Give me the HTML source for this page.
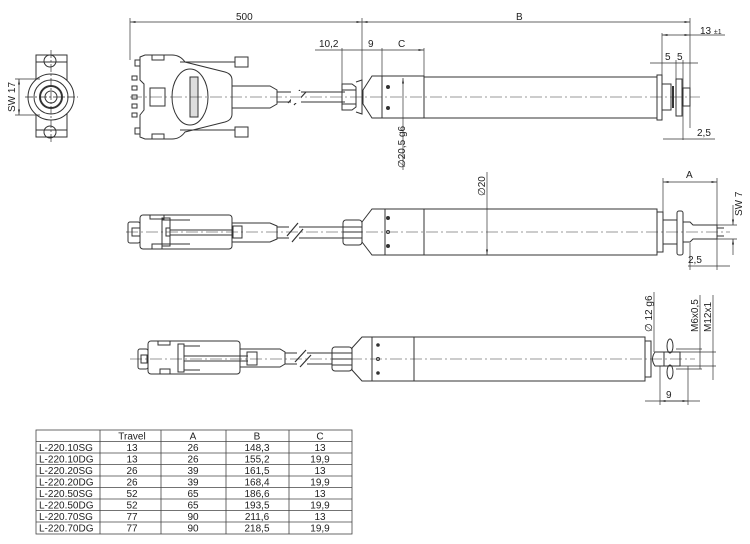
<!DOCTYPE html>
<html><head><meta charset="utf-8"><style>
html,body{margin:0;padding:0;background:#fff;}
svg{display:block;}
text{font-family:"Liberation Sans",sans-serif;fill:#222;}
</style></head><body>
<svg width="750" height="544" viewBox="0 0 750 544" xmlns="http://www.w3.org/2000/svg">
<defs>
<marker id="a" markerWidth="8" markerHeight="6" refX="8" refY="3" orient="auto-start-reverse"><path d="M0,1.5 L8,3 L0,4.5z" fill="#333"/></marker>
</defs>
<g fill="none" stroke="#333" stroke-width="1">
<!-- END VIEW -->
<rect x="36" y="55" width="31" height="82"/>
<line x1="36" y1="62" x2="67" y2="62"/><line x1="36" y1="130" x2="67" y2="130"/>
<circle cx="50" cy="61" r="6"/><circle cx="50" cy="132" r="6"/>
<circle cx="51" cy="97" r="23" fill="#fff"/><circle cx="51" cy="97" r="17"/><circle cx="51" cy="97" r="11" stroke-width="2"/><circle cx="51" cy="97" r="6"/>
<line x1="51" y1="50" x2="51" y2="142" stroke-dasharray="8,2,2,2" stroke-width="0.7"/>
<line x1="25" y1="97" x2="78" y2="97" stroke-dasharray="8,2,2,2" stroke-width="0.7"/>
<line x1="15" y1="79" x2="40" y2="79" stroke-width="0.7"/><line x1="15" y1="115" x2="40" y2="115" stroke-width="0.7"/>
<line x1="19" y1="79" x2="19" y2="115" stroke-width="0.7" marker-start="url(#a)" marker-end="url(#a)"/>

<!-- TOP CONNECTOR -->
<rect x="135" y="60" width="5" height="6"/><rect x="135" y="128" width="5" height="6"/>
<rect x="132" y="76" width="5" height="4"/><rect x="132" y="86" width="5" height="4"/><rect x="132" y="95" width="5" height="4"/><rect x="132" y="104" width="5" height="4"/><rect x="132" y="113" width="5" height="4"/>
<path d="M140,57 L145,55 L172,55 Q180,55 185,62 L225,72 Q232,74 232,80 L232,114 Q232,120 225,122 L185,132 Q180,139 172,139 L145,139 L140,137 L140,115 L144,110 L144,84 L140,80Z"/>
<rect x="152" y="55" width="12" height="5"/><rect x="152" y="134" width="12" height="5"/>
<rect x="150" y="88" width="15" height="18"/>
<line x1="180" y1="62" x2="235" y2="62"/><line x1="180" y1="130" x2="235" y2="130"/>
<rect x="235" y="57" width="13" height="10"/><rect x="235" y="127" width="13" height="10"/>
<ellipse cx="190" cy="97" rx="18" ry="28"/>
<rect x="190" y="77" width="8" height="40" fill="#ddd"/>
<path d="M232,86 L270,86 L277,90 L277,104 L270,108 L232,108"/>
<line x1="277" y1="92" x2="345" y2="92"/><line x1="277" y1="102" x2="345" y2="102"/>
<path d="M288,103 L300,90 M294,105 L306,92" stroke-width="1.2"/>
<rect x="291" y="91" width="10" height="12" fill="#fff" stroke="none"/>
<path d="M342,84 L352,84 L356,87 L356,107 L352,110 L342,110 Z M342,90 L356,90 M342,104 L356,104"/>
<path d="M356,82 L362,80 L362,114 L356,112"/>
<path d="M363,90 L372,76 L424,76 L424,118 L372,118 L363,104 Z"/>
<line x1="382" y1="76" x2="382" y2="118"/>
<rect x="424" y="77" width="233" height="41"/>
<rect x="657" y="75" width="5" height="45"/>
<rect x="662" y="84" width="9" height="26"/><line x1="673" y1="86" x2="673" y2="108" stroke-width="2"/>
<rect x="676" y="79" width="6" height="37"/>
<rect x="683" y="88" width="7" height="18"/>
<line x1="130" y1="97" x2="700" y2="97" stroke-dasharray="12,3,2,3" stroke-width="0.6"/>
<circle cx="388" cy="87" r="1.5" fill="#333"/><circle cx="388" cy="108" r="1.5" fill="#333"/>

<g stroke-width="0.7">
<line x1="130" y1="18" x2="130" y2="60"/>
<line x1="362" y1="18" x2="362" y2="80"/>
<line x1="690" y1="18" x2="690" y2="128"/>
<line x1="130" y1="22" x2="362" y2="22" marker-start="url(#a)" marker-end="url(#a)"/>
<line x1="362" y1="22" x2="690" y2="22" marker-start="url(#a)" marker-end="url(#a)"/>
<line x1="662" y1="33" x2="662" y2="80"/>
<line x1="662" y1="35" x2="690" y2="35" marker-start="url(#a)" marker-end="url(#a)"/>
<line x1="690" y1="35" x2="725" y2="35"/>
<line x1="650" y1="63" x2="698" y2="63"/>
<line x1="676" y1="60" x2="676" y2="80"/><line x1="683" y1="60" x2="683" y2="140"/>
<line x1="342" y1="48" x2="342" y2="84"/><line x1="382" y1="48" x2="382" y2="76"/><line x1="424" y1="48" x2="424" y2="76"/>
<line x1="315" y1="50" x2="342" y2="50"/>
<line x1="342" y1="50" x2="424" y2="50" marker-end="url(#a)"/>
<line x1="403" y1="78" x2="403" y2="170" marker-start="url(#a)"/>
<line x1="663" y1="139" x2="715" y2="139"/>
</g>

<!-- MIDDLE CONNECTOR -->
<rect x="128" y="222" width="12" height="21" rx="2"/>
<rect x="132" y="228" width="8" height="8"/>
<rect x="140" y="215" width="92" height="34" rx="3"/>
<rect x="150" y="215" width="14" height="4"/><rect x="152" y="244" width="10" height="5"/>
<rect x="162" y="218" width="8" height="28"/>
<line x1="162" y1="220" x2="190" y2="220"/><line x1="162" y1="244" x2="190" y2="244"/>
<rect x="166" y="228" width="4" height="8"/>
<line x1="170" y1="230" x2="233" y2="230"/><line x1="170" y1="235" x2="233" y2="235"/>
<rect x="233" y="226" width="9" height="12"/>
<path d="M232,223 L270,223 L277,226 L277,239 L270,242 L232,242"/>
<line x1="277" y1="227" x2="344" y2="227"/><line x1="277" y1="238" x2="344" y2="238"/>
<rect x="289" y="225" width="10" height="15" fill="#fff" stroke="none"/>
<path d="M287,236 L298,223 M292,242 L303,229" stroke-width="1.2"/>
<rect x="343" y="220" width="19" height="25" rx="3"/>
<line x1="343" y1="227" x2="362" y2="227"/><line x1="343" y1="232" x2="362" y2="232"/><line x1="343" y1="238" x2="362" y2="238"/>
<path d="M362,222 L372,209 L424,209 L424,255 L372,255 L362,242 Z"/>
<line x1="385" y1="209" x2="385" y2="255"/>
<rect x="424" y="209" width="233" height="46"/>
<circle cx="388" cy="218" r="1.5" fill="#333"/><circle cx="388" cy="246" r="1.5" fill="#333"/><circle cx="388" cy="232" r="1.5"/>
<rect x="657" y="212" width="6" height="40"/>
<rect x="663" y="220" width="14" height="24"/>
<rect x="677" y="211" width="6" height="44" rx="2"/>
<path d="M683,222 L690,222 L693,225 L717,225 L717,239 L693,239 L690,242 L683,242"/>
<line x1="717" y1="228" x2="724" y2="228"/><line x1="717" y1="236" x2="724" y2="236"/>
<line x1="126" y1="232" x2="730" y2="232" stroke-dasharray="12,3,2,3" stroke-width="0.6"/>
<g stroke-width="0.7">
<line x1="487" y1="172" x2="487" y2="255" marker-end="url(#a)"/>
<line x1="663" y1="178" x2="663" y2="215"/><line x1="717" y1="178" x2="717" y2="270"/>
<line x1="663" y1="182" x2="717" y2="182" marker-start="url(#a)" marker-end="url(#a)"/>
<line x1="713" y1="225" x2="737" y2="225"/><line x1="713" y1="239" x2="737" y2="239"/>
<line x1="733" y1="205" x2="733" y2="225" marker-end="url(#a)"/><line x1="733" y1="239" x2="733" y2="255" marker-start="url(#a)"/>
<line x1="690" y1="243" x2="690" y2="270"/>
<line x1="688" y1="266" x2="730" y2="266"/>
</g>

<!-- BOTTOM CONNECTOR -->
<rect x="138" y="349" width="10" height="20" rx="2"/>
<rect x="141" y="355" width="6" height="8"/>
<rect x="148" y="341" width="92" height="33" rx="3"/>
<rect x="158" y="341" width="12" height="4"/><rect x="160" y="369" width="10" height="5"/>
<rect x="178" y="344" width="6" height="28"/>
<line x1="184" y1="346" x2="200" y2="346"/><line x1="184" y1="370" x2="200" y2="370"/>
<line x1="184" y1="356" x2="248" y2="356"/><line x1="184" y1="361" x2="248" y2="361"/>
<rect x="247" y="352" width="10" height="13"/>
<path d="M240,349 L280,349 L285,352 L285,364 L280,367 L240,367"/>
<line x1="285" y1="353" x2="332" y2="353"/><line x1="285" y1="364" x2="332" y2="364"/>
<rect x="297" y="351" width="10" height="15" fill="#fff" stroke="none"/>
<path d="M295,362 L306,350 M300,367 L311,355" stroke-width="1.2"/>
<rect x="332" y="347" width="20" height="24" rx="3"/>
<line x1="332" y1="353" x2="352" y2="353"/><line x1="332" y1="359" x2="352" y2="359"/><line x1="332" y1="365" x2="352" y2="365"/>
<path d="M352,348 L362,337 L414,337 L414,381 L362,381 L352,370 Z"/>
<line x1="372" y1="337" x2="372" y2="381"/>
<rect x="414" y="337" width="231" height="44"/>
<circle cx="378" cy="345" r="1.3" fill="#333"/><circle cx="378" cy="373" r="1.3" fill="#333"/><circle cx="378" cy="359" r="1.5"/>
<rect x="645" y="341" width="6" height="36"/>
<path d="M655,352 Q650,359 655,366 L680,366 L680,352 Z"/>
<line x1="664" y1="352" x2="664" y2="366"/>
<ellipse cx="670" cy="346" rx="3" ry="7"/><ellipse cx="670" cy="372" rx="3" ry="7"/>
<line x1="130" y1="359" x2="695" y2="359" stroke-dasharray="12,3,2,3" stroke-width="0.6"/>
<g stroke-width="0.7">
<line x1="654" y1="292" x2="654" y2="352"/>
<line x1="680" y1="352" x2="716" y2="352"/><line x1="680" y1="366" x2="716" y2="366"/>
<line x1="676" y1="349" x2="702" y2="349"/><line x1="676" y1="369" x2="702" y2="369"/>
<line x1="700" y1="295" x2="700" y2="369"/><line x1="713" y1="295" x2="713" y2="380"/>
<line x1="660" y1="366" x2="660" y2="405"/><line x1="688" y1="366" x2="688" y2="405"/>
<line x1="645" y1="401" x2="700" y2="401"/>
<line x1="660" y1="401" x2="688" y2="401" marker-start="url(#a)" marker-end="url(#a)"/>
</g>
</g>

<g font-size="10">
<text x="0" y="0" transform="translate(15,112) rotate(-90)">SW 17</text>
<text x="236" y="20">500</text>
<text x="516" y="20">B</text>
<text x="700" y="34">13 <tspan font-size="7">±1</tspan></text>
<text x="319" y="47">10,2</text>
<text x="368" y="47">9</text>
<text x="398" y="47">C</text>
<text x="665" y="60">5</text><text x="677" y="60">5</text>
<text x="0" y="0" transform="translate(405,168) rotate(-90)">∅20,5 g6</text>
<text x="697" y="136">2,5</text>
<text x="0" y="0" transform="translate(485,196) rotate(-90)">∅20</text>
<text x="686" y="178">A</text>
<text x="0" y="0" transform="translate(742,216) rotate(-90)">SW 7</text>
<text x="688" y="263">2,5</text>
<text x="0" y="0" transform="translate(652,332) rotate(-90)">∅ 12 g6</text>
<text x="0" y="0" transform="translate(698,332) rotate(-90)">M6x0,5</text>
<text x="0" y="0" transform="translate(711,332) rotate(-90)">M12x1</text>
<text x="666" y="398">9</text>
</g>

<g stroke="#444" stroke-width="0.8" fill="none">
<rect x="36" y="430" width="316" height="104"/>
<line x1="100" y1="430" x2="100" y2="534"/><line x1="161" y1="430" x2="161" y2="534"/><line x1="226" y1="430" x2="226" y2="534"/><line x1="289" y1="430" x2="289" y2="534"/>
<line x1="36" y1="441.5" x2="352" y2="441.5"/><line x1="36" y1="453" x2="352" y2="453"/><line x1="36" y1="464.5" x2="352" y2="464.5"/><line x1="36" y1="476" x2="352" y2="476"/><line x1="36" y1="487.5" x2="352" y2="487.5"/><line x1="36" y1="499" x2="352" y2="499"/><line x1="36" y1="510.5" x2="352" y2="510.5"/><line x1="36" y1="522" x2="352" y2="522"/>
</g>
<g font-size="10" text-anchor="middle">
<text x="132" y="439.5">Travel</text><text x="193" y="439.5">A</text><text x="257" y="439.5">B</text><text x="320" y="439.5">C</text>
<g text-anchor="start">
<text x="39" y="451">L-220.10SG</text><text x="39" y="462.5">L-220.10DG</text><text x="39" y="474">L-220.20SG</text><text x="39" y="485.5">L-220.20DG</text><text x="39" y="497">L-220.50SG</text><text x="39" y="508.5">L-220.50DG</text><text x="39" y="520">L-220.70SG</text><text x="39" y="531.5">L-220.70DG</text>
</g>
<text x="132" y="451">13</text><text x="193" y="451">26</text><text x="257" y="451">148,3</text><text x="320" y="451">13</text>
<text x="132" y="462.5">13</text><text x="193" y="462.5">26</text><text x="257" y="462.5">155,2</text><text x="320" y="462.5">19,9</text>
<text x="132" y="474">26</text><text x="193" y="474">39</text><text x="257" y="474">161,5</text><text x="320" y="474">13</text>
<text x="132" y="485.5">26</text><text x="193" y="485.5">39</text><text x="257" y="485.5">168,4</text><text x="320" y="485.5">19,9</text>
<text x="132" y="497">52</text><text x="193" y="497">65</text><text x="257" y="497">186,6</text><text x="320" y="497">13</text>
<text x="132" y="508.5">52</text><text x="193" y="508.5">65</text><text x="257" y="508.5">193,5</text><text x="320" y="508.5">19,9</text>
<text x="132" y="520">77</text><text x="193" y="520">90</text><text x="257" y="520">211,6</text><text x="320" y="520">13</text>
<text x="132" y="531.5">77</text><text x="193" y="531.5">90</text><text x="257" y="531.5">218,5</text><text x="320" y="531.5">19,9</text>
</g>
</svg>
</body></html>
